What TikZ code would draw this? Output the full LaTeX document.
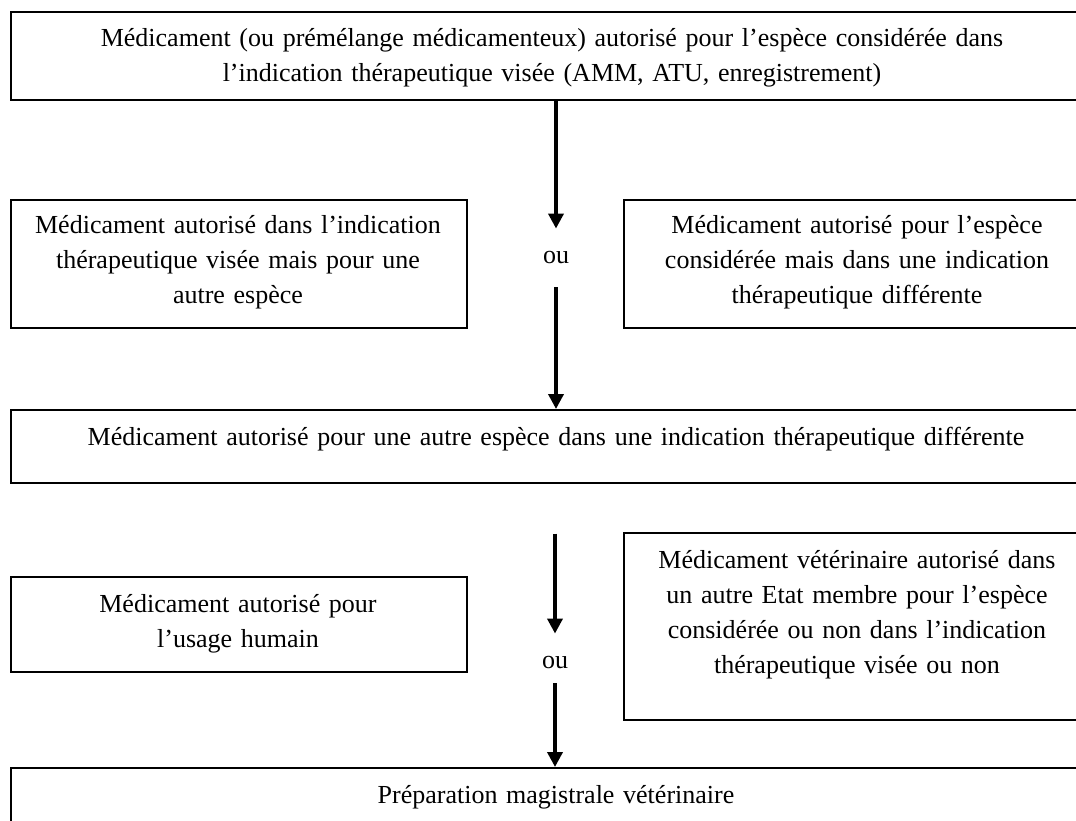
\documentclass[tikz,border=0pt]{standalone}
\usepackage{fontspec}
\setmainfont{Liberation Serif}
\usetikzlibrary{arrows.meta}

\begin{document}
\begin{tikzpicture}[x=1pt,y=-1pt,
  frame/.style={draw=black,line width=1.6pt,rectangle,inner sep=0pt},
  label/.style={anchor=base,align=center,inner sep=0pt,
    font=\fontsize{26}{35}\selectfont},
  orlabel/.style={inner sep=0pt,font=\fontsize{26}{35}\selectfont},
  flow/.style={line width=3.6pt,-{Triangle[width=15pt,length=15pt]}}
]
\useasboundingbox (0,0) rectangle (1076,820);
\clip (0,0) rectangle (1076,820);

% boxes (corner to corner)
\node[frame,minimum width=1090pt,minimum height=88pt,anchor=north west] (top) at (10,11) {};
\node[frame,minimum width=456pt,minimum height=128pt,anchor=north west] (left1) at (10,199) {};
\node[frame,minimum width=470pt,minimum height=128pt,anchor=north west] (right1) at (623,199) {};
\node[frame,minimum width=1092pt,minimum height=73pt,anchor=north west] (mid) at (10,409) {};
\node[frame,minimum width=456pt,minimum height=95pt,anchor=north west] (left2) at (10,576) {};
\node[frame,minimum width=470pt,minimum height=187pt,anchor=north west] (right2) at (623,532) {};
\node[frame,minimum width=1092pt,minimum height=90pt,anchor=north west] (bottom) at (10,767) {};

% texts
\node[label,text width=1040pt] (ttop) at (552,46)
  {Médicament (ou prémélange médicamenteux) autorisé pour l’espèce considérée dans\\
   l’indication thérapeutique visée (AMM, ATU, enregistrement)};
\node[label,text width=450pt] (tleft1) at (238,233)
  {Médicament autorisé dans l’indication\\ thérapeutique visée mais pour une\\ autre espèce};
\node[label,text width=450pt] (tright1) at (857,233)
  {Médicament autorisé pour l’espèce\\ considérée mais dans une indication\\ thérapeutique différente};
\node[label,text width=1060pt] (tmid) at (556,445)
  {Médicament autorisé pour une autre espèce dans une indication thérapeutique différente};
\node[label,text width=450pt] (tleft2) at (238,612)
  {Médicament autorisé pour\\ l’usage humain};
\node[label,text width=450pt] (tright2) at (857,568)
  {Médicament vétérinaire autorisé dans\\ un autre Etat membre pour l’espèce\\ considérée ou non dans l’indication\\ thérapeutique visée ou non};
\node[label,text width=1060pt] (tbottom) at (556,803)
  {Préparation magistrale vétérinaire};

% "ou" between the alternatives
\node[orlabel] (ou1) at (556,257) {ou};
\node[orlabel] (ou2) at (555,662) {ou};

% connectors
\draw[flow,shorten >=22pt] (top.south -| ou1) -- (ou1.north);
\draw[flow,shorten <=24pt] (ou1.south) -- (ou1.south |- mid.north);
\draw[flow,shorten <=50pt,shorten >=22pt] (mid.south -| ou2) -- (ou2.north);
\draw[flow,shorten <=15pt] (ou2.south) -- (ou2.south |- bottom.north);
\end{tikzpicture}
\end{document}
